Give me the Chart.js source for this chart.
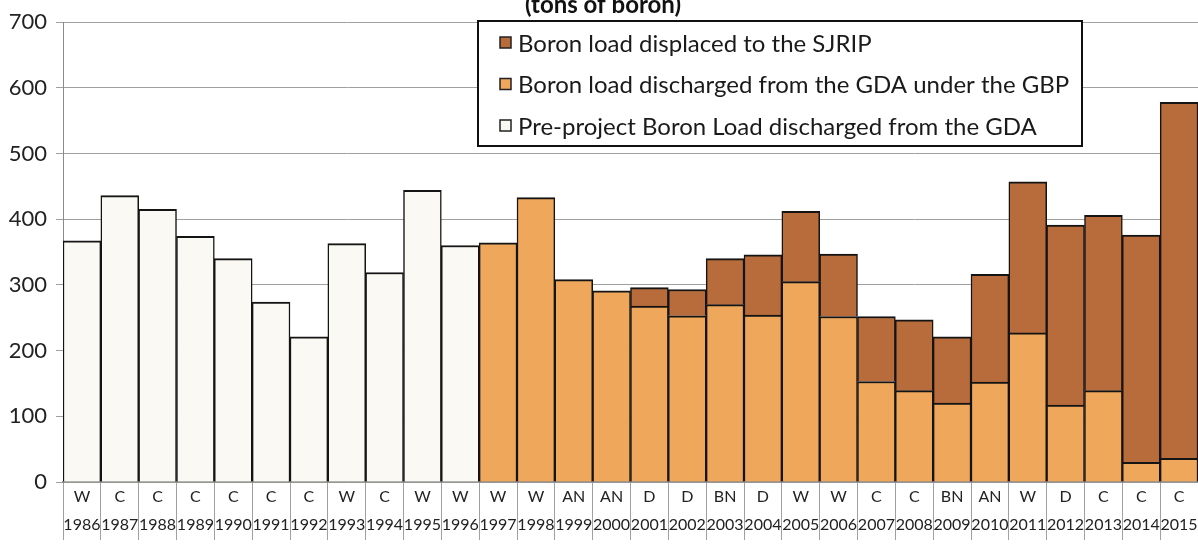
<!DOCTYPE html>
<html>
<head>
<meta charset="utf-8">
<script src="https://cdn.jsdelivr.net/npm/chart.js@4.4.1/dist/chart.umd.min.js"></script>
<style>
  html, body { margin: 0; padding: 0; background: #fff; }
  #wrap { position: relative; width: 1198px; height: 546px; }
</style>
</head>
<body>
<div id="wrap"><canvas id="boron-chart"></canvas></div>
<script>
var years = ['1986', '1987', '1988', '1989', '1990', '1991', '1992', '1993', '1994', '1995',
             '1996', '1997', '1998', '1999', '2000', '2001', '2002', '2003', '2004', '2005',
             '2006', '2007', '2008', '2009', '2010', '2011', '2012', '2013', '2014', '2015'];
var yearTypes = ['W', 'C', 'C', 'C', 'C', 'C', 'C', 'W', 'C', 'W',
                 'W', 'W', 'W', 'AN', 'AN', 'D', 'D', 'BN', 'D', 'W',
                 'W', 'C', 'C', 'BN', 'AN', 'W', 'D', 'C', 'C', 'C'];

// tons of boron
var preProject = [367, 436, 415, 374, 340, 274, 221, 363, 319, 444,
                  360, null, null, null, null, null, null, null, null, null,
                  null, null, null, null, null, null, null, null, null, null];
var gbpDischarged = [null, null, null, null, null, null, null, null, null, null,
                     null, 364, 433, 308, 291, 268, 253, 270, 254, 305,
                     252, 153, 139, 120, 152, 227, 117, 139, 30, 36];
var displaced = [null, null, null, null, null, null, null, null, null, null,
                 null, null, null, null, null, 28, 40, 70, 92, 107,
                 95, 99, 108, 101, 164, 230, 274, 267, 346, 542];
var yTicks = [0, 100, 200, 300, 400, 500, 600, 700];

var seriesNames = ['Pre-project Boron Load discharged from the GDA',
                   'Boron load discharged from the GDA under the GBP',
                   'Boron load displaced to the SJRIP'];
var titleText = '(tons of boron)';

var FONT = 'Lato, "DejaVu Sans", sans-serif';
var colors = { pre: '#fbf9f3', gbp: '#efa75b', sjrip: '#b86b3b', edge: '#141414', grid: '#a0a0a0' };

/* title + boxed legend drawn over the plot, like the original figure */
var boxLegend = {
    id: 'boxLegend',
    afterDraw: function (chart) {
        var ctx = chart.ctx;
        ctx.save();
        ctx.fillStyle = '#111';
        ctx.font = 'bold 24px ' + FONT;
        ctx.textAlign = 'center';
        ctx.textBaseline = 'alphabetic';
        ctx.fillText(titleText, 603, 13);

        var bx = 478, by = 21, bw = 604, bh = 125;
        ctx.fillStyle = '#fff';
        ctx.fillRect(bx, by, bw, bh);
        ctx.lineWidth = 2;
        ctx.strokeStyle = '#111';
        ctx.strokeRect(bx, by, bw, bh);

        var ds = chart.data.datasets.slice().reverse();
        ctx.font = '24px ' + FONT;
        ctx.textAlign = 'left';
        ctx.textBaseline = 'middle';
        ds.forEach(function (d, i) {
            var cy = 43 + i * 41.5;
            ctx.fillStyle = d.backgroundColor;
            ctx.fillRect(500, cy - 6, 11, 11);
            ctx.lineWidth = 1.5;
            ctx.strokeStyle = '#222';
            ctx.strokeRect(500, cy - 6, 11, 11);
            ctx.fillStyle = '#1a1a1a';
            ctx.fillText(d.label, 518, cy + 1);
        });
        ctx.restore();
    }
};

var barStyle = {
    borderColor: colors.edge,
    borderWidth: { top: 2, left: 1.5, right: 1.5, bottom: 0 },
    barPercentage: 1,
    categoryPercentage: 1,
    stack: 'load'
};

new Chart(document.getElementById('boron-chart'), {
    type: 'bar',
    data: {
        labels: years.map(function (y, i) { return [yearTypes[i], y]; }),
        datasets: [
            Object.assign({ label: seriesNames[0], data: preProject, backgroundColor: colors.pre }, barStyle),
            Object.assign({ label: seriesNames[1], data: gbpDischarged, backgroundColor: colors.gbp }, barStyle),
            Object.assign({ label: seriesNames[2], data: displaced, backgroundColor: colors.sjrip }, barStyle)
        ]
    },
    options: {
        responsive: true,
        maintainAspectRatio: false,
        animation: false,
        layout: { padding: { top: 17, right: 0, bottom: 0, left: 0 } },
        plugins: {
            legend: { display: false },
            title: { display: false },
            tooltip: { enabled: false }
        },
        scales: {
            x: {
                stacked: true,
                grid: {
                    offset: true,
                    drawOnChartArea: false,
                    drawTicks: true,
                    tickLength: 58,
                    color: colors.grid,
                    lineWidth: 1
                },
                border: { color: '#8a8a8a', width: 1.5 },
                ticks: {
                    autoSkip: false,
                    maxRotation: 0,
                    minRotation: 0,
                    padding: -57,
                    color: '#222',
                    font: { family: FONT, size: 16, lineHeight: 1.75 }
                },
                afterFit: function (scale) { scale.height = 64; }
            },
            y: {
                stacked: true,
                min: 0,
                max: 700,
                afterBuildTicks: function (scale) {
                    scale.ticks = yTicks.map(function (v) { return { value: v }; });
                },
                grid: { color: colors.grid, lineWidth: 1, tickLength: 7 },
                border: { color: '#8a8a8a', width: 1 },
                ticks: {
                    padding: 9,
                    color: '#222',
                    font: { family: FONT, size: 22 }
                },
                afterFit: function (scale) { scale.width = 63; }
            }
        }
    },
    plugins: [boxLegend]
});
</script>
</body>
</html>
